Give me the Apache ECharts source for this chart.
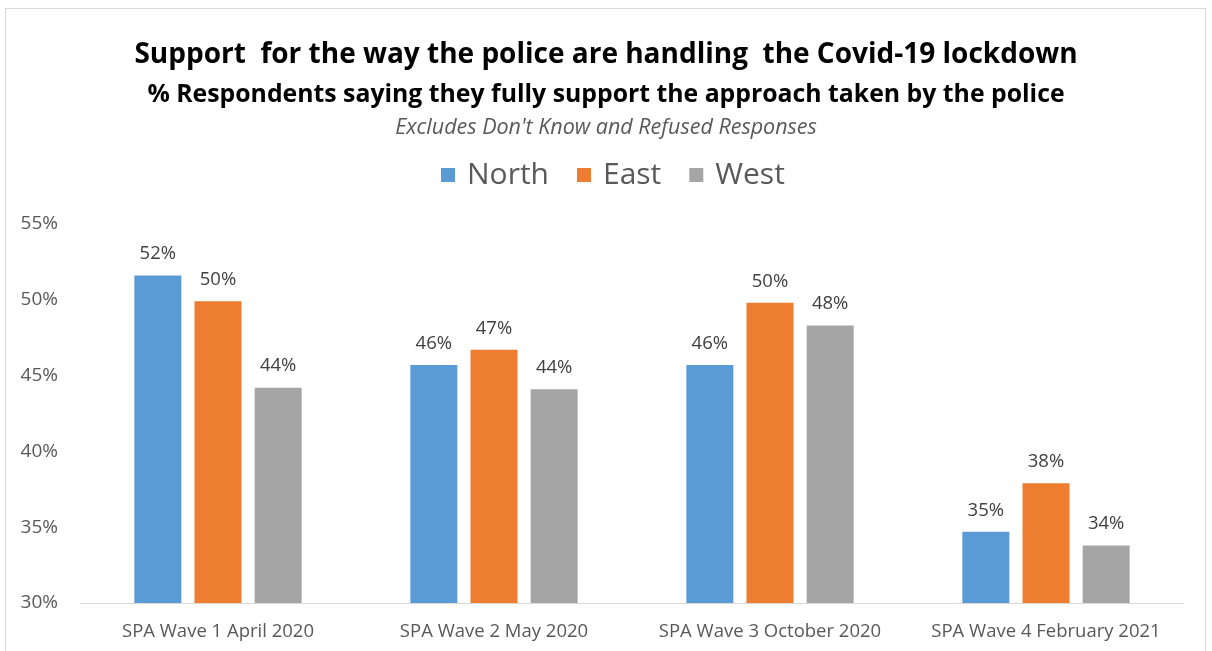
<!DOCTYPE html>
<html>
<head>
<meta charset="utf-8">
<script src="https://cdn.jsdelivr.net/npm/echarts@6/dist/echarts.min.js"></script>
<style>
  html, body { margin: 0; padding: 0; background: #fff; }
  #frame { position: absolute; left: 5px; top: 8px; width: 1201px; height: 650px; border: 1px solid #d9d9d9; border-bottom: none; box-sizing: border-box; }
  #chart { position: absolute; left: 0; top: 0; width: 1212px; height: 651px; }
</style>
</head>
<body>
<div id="frame"></div>
<div id="chart"></div>
<script>
// Survey waves shown along the x axis
const waves = [
  'SPA Wave 1 April 2020',
  'SPA Wave 2 May 2020',
  'SPA Wave 3 October 2020',
  'SPA Wave 4 February 2021'
];

// Share of respondents fully supporting the police approach (%)
const north = [51.6, 45.7, 45.7, 34.7];
const east  = [49.9, 46.7, 49.8, 37.9];
const west  = [44.2, 44.1, 48.3, 33.8];

const regionNames = ['North', 'East', 'West'];
const regionColors = ['#5b9bd5', '#ed7d31', '#a5a5a5'];

const titleText = 'Support  for the way the police are handling  the Covid-19 lockdown';
const subtitleText = '% Respondents saying they fully support the approach taken by the police';
const noteText = "Excludes Don't Know and Refused Responses";

const FONT = '"Open Sans", "Noto Sans", sans-serif';

const chart = echarts.init(document.getElementById('chart'), null, { renderer: 'canvas' });

function barSeries(name, values, color) {
  return {
    name: name,
    type: 'bar',
    data: values,
    barWidth: 47,
    barGap: '28%',
    itemStyle: { color: color },
    label: {
      show: true,
      position: 'top',
      distance: 12,
      color: '#404040',
      fontFamily: FONT,
      fontSize: 18.5,
      formatter: p => Math.round(p.value) + '%'
    }
  };
}

chart.setOption({
  animation: false,
  backgroundColor: 'transparent',
  title: [
    {
      text: titleText,
      left: 'center', top: 36,
      textStyle: { fontFamily: FONT, fontWeight: 'bold', fontSize: 28, color: '#000' }
    },
    {
      text: subtitleText,
      left: 'center', top: 77,
      textStyle: { fontFamily: FONT, fontWeight: 'bold', fontSize: 24.8, color: '#000' }
    },
    {
      text: noteText,
      left: 'center', top: 112,
      textStyle: { fontFamily: FONT, fontStyle: 'italic', fontWeight: 'normal', fontSize: 21.5, color: '#595959' }
    }
  ],
  legend: {
    data: regionNames,
    top: 155,
    left: 436,
    itemWidth: 14,
    itemHeight: 14,
    itemGap: 28,
    icon: 'rect',
    textStyle: { fontFamily: FONT, fontSize: 30, color: '#595959', padding: [0, 0, 0, 7] }
  },
  grid: { left: 80, right: 28, top: 224, bottom: 48, containLabel: false },
  xAxis: {
    type: 'category',
    data: waves,
    axisLine: { lineStyle: { color: '#d9d9d9', width: 1 } },
    axisTick: { show: false },
    axisLabel: { interval: 0, hideOverlap: false, fontFamily: FONT, fontSize: 18.5, color: '#595959', margin: 19 }
  },
  yAxis: {
    type: 'value',
    min: 30, max: 55, interval: 5,
    axisLine: { show: false },
    axisTick: { show: false },
    splitLine: { show: false },
    axisLabel: { fontFamily: FONT, fontSize: 19, color: '#595959', margin: 22, formatter: v => v + '%' }
  },
  series: [
    barSeries(regionNames[0], north, regionColors[0]),
    barSeries(regionNames[1], east, regionColors[1]),
    barSeries(regionNames[2], west, regionColors[2])
  ]
});
</script>
</body>
</html>
